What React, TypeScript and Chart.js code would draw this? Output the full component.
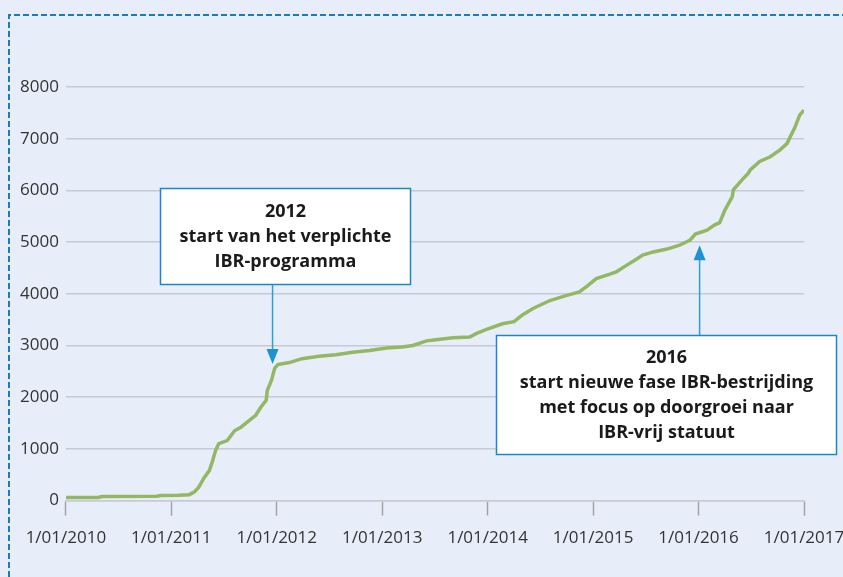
import React, { useEffect, useRef } from "react";
import { Chart, registerables } from "chart.js";

Chart.register(...registerables);

// Decimal year of each reading
const dates = [
  2010.0, 2010.31, 2010.34, 2010.86, 2010.9, 2011.07, 2011.17, 2011.22, 2011.26, 2011.31,
  2011.36, 2011.39, 2011.42, 2011.45, 2011.53, 2011.6, 2011.66, 2011.74, 2011.8, 2011.85,
  2011.9, 2011.91, 2011.95, 2011.98, 2012.01, 2012.12, 2012.24, 2012.4, 2012.56, 2012.72,
  2012.88, 2013.04, 2013.19, 2013.29, 2013.42, 2013.51, 2013.67, 2013.83, 2013.89, 2013.99,
  2014.14, 2014.25, 2014.33, 2014.43, 2014.59, 2014.75, 2014.87, 2014.94, 2015.03, 2015.16,
  2015.22, 2015.32, 2015.41, 2015.47, 2015.57, 2015.7, 2015.82, 2015.92, 2015.97, 2016.08,
  2016.15, 2016.2, 2016.25, 2016.32, 2016.33, 2016.41, 2016.47, 2016.49, 2016.58, 2016.68,
  2016.77, 2016.84, 2016.87, 2016.91, 2016.96, 2017.0,
];
// Cumulative number of herds
const counts = [
  60, 60, 80, 85, 100, 105, 115, 170, 260, 440,
  580, 760, 970, 1100, 1160, 1350, 1420, 1550, 1650, 1810,
  1940, 2130, 2330, 2560, 2630, 2670, 2745, 2790, 2820, 2870,
  2905, 2950, 2970, 3000, 3090, 3110, 3150, 3165, 3230, 3310,
  3420, 3460, 3590, 3715, 3870, 3970, 4035, 4145, 4295, 4380,
  4425, 4555, 4670, 4750, 4810, 4865, 4940, 5040, 5155, 5230,
  5330, 5375, 5620, 5880, 6010, 6200, 6330, 6395, 6560, 6650,
  6780, 6910, 7040, 7200, 7460, 7550,
];
const yearTicks = [2010, 2011, 2012, 2013, 2014, 2015, 2016, 2017];
const valueTicks = [0, 1000, 2000, 3000, 4000, 5000, 6000, 7000, 8000];

const note2012 = ["2012", "start van het verplichte", "IBR-programma"];
const note2016 = [
  "2016",
  "start nieuwe fase IBR-bestrijding",
  "met focus op doorgroei naar",
  "IBR-vrij statuut",
];

// annotation anchors in data coordinates
const annotations = [
  { lines: note2012, arrowX: 2011.96, tipY: 2640, box: { x0: 2010.893, x1: 2013.267, y0: 6047, y1: 4186 }, dir: "down" },
  { lines: note2016, arrowX: 2016.01, tipY: 4940, box: { x0: 2014.08, x1: 2017.3, y0: 3200, y1: 910 }, dir: "up" },
];

const FONT = "'Open Sans', 'DejaVu Sans', sans-serif";

const framePlugin = {
  id: "frame",
  beforeDraw(chart: any) {
    const { ctx, width, height } = chart;
    ctx.save();
    ctx.fillStyle = "#e7eefa";
    ctx.fillRect(0, 0, width, height);
    ctx.strokeStyle = "#1a7cb9";
    ctx.lineWidth = 2;
    ctx.setLineDash([6, 3]);
    ctx.beginPath();
    ctx.moveTo(9, height);
    ctx.lineTo(9, 15);
    ctx.lineTo(width, 15);
    ctx.stroke();
    ctx.restore();
  },
  afterDraw(chart: any) {
    const { ctx } = chart;
    const xs = chart.scales.x;
    const ys = chart.scales.y;
    ctx.save();
    annotations.forEach((a) => {
      const left = Math.round(xs.getPixelForValue(a.box.x0)) + 0.5;
      const right = Math.round(xs.getPixelForValue(a.box.x1)) + 0.5;
      const top = Math.round(ys.getPixelForValue(a.box.y0)) + 0.5;
      const bottom = Math.round(ys.getPixelForValue(a.box.y1)) + 0.5;
      const ax = xs.getPixelForValue(a.arrowX);
      const tip = ys.getPixelForValue(a.tipY);
      // arrow line
      ctx.strokeStyle = "#2ba0d8";
      ctx.lineWidth = 1.5;
      ctx.beginPath();
      if (a.dir === "down") {
        ctx.moveTo(ax, bottom);
        ctx.lineTo(ax, tip - 12);
      } else {
        ctx.moveTo(ax, top);
        ctx.lineTo(ax, tip + 12);
      }
      ctx.stroke();
      ctx.fillStyle = "#1b93d0";
      ctx.beginPath();
      if (a.dir === "down") {
        ctx.moveTo(ax - 6, tip - 15);
        ctx.lineTo(ax + 6, tip - 15);
        ctx.lineTo(ax, tip);
      } else {
        ctx.moveTo(ax - 6, tip + 15);
        ctx.lineTo(ax + 6, tip + 15);
        ctx.lineTo(ax, tip);
      }
      ctx.closePath();
      ctx.fill();
      // box
      ctx.fillStyle = "#ffffff";
      ctx.fillRect(left, top, right - left, bottom - top);
      ctx.strokeStyle = "#1e87c3";
      ctx.lineWidth = 1.5;
      ctx.strokeRect(left, top, right - left, bottom - top);
      // text
      ctx.fillStyle = "#1a1a1a";
      ctx.font = `bold 18px ${FONT}`;
      ctx.textAlign = "center";
      ctx.textBaseline = "middle";
      const cx = (left + right) / 2;
      const lh = 25;
      const total = lh * (a.lines.length - 1);
      const cy = (top + bottom) / 2;
      a.lines.forEach((t, i) => {
        ctx.fillText(t, cx, cy - total / 2 + i * lh);
      });
    });
    ctx.restore();
  },
};

export default function App() {
  const ref = useRef<HTMLCanvasElement>(null);
  useEffect(() => {
    document.body.style.margin = "0";
    const points = dates.map((d, i) => ({ x: d, y: counts[i] }));
    const chart = new Chart(ref.current!, {
      type: "line",
      data: {
        datasets: [
          {
            data: points,
            borderColor: "#94b763",
            borderWidth: 3.5,
            pointRadius: 0,
            tension: 0,
            fill: false,
          },
        ],
      },
      options: {
        animation: false,
        responsive: false,
        devicePixelRatio: 1,
        layout: { padding: { left: 13, top: 87, right: 39, bottom: 17 } },
        plugins: { legend: { display: false }, tooltip: { enabled: false } },
        scales: {
          x: {
            type: "linear",
            min: 2010,
            max: 2017,
            afterBuildTicks: (s: any) => {
              s.ticks = yearTicks.map((v) => ({ value: v }));
            },
            afterFit: (s: any) => {
              s.paddingLeft = 0;
              s.paddingRight = 0;
            },
            ticks: {
              callback: (v: any) => `1/01/${v}`,
              color: "#333333",
              font: { family: FONT, size: 17 },
              padding: 12,
              maxRotation: 0,
              autoSkip: false,
            },
            grid: {
              drawOnChartArea: false,
              drawTicks: true,
              tickLength: 15,
              tickColor: "#a3a3a3",
              tickWidth: 1.5,
            },
            border: { display: true, color: "#c6cad4", width: 1.5 },
          },
          y: {
            type: "linear",
            min: 0,
            max: 8000,
            afterBuildTicks: (s: any) => {
              s.ticks = valueTicks.map((v) => ({ value: v }));
            },
            ticks: {
              callback: (v: any) => String(v),
              color: "#333333",
              font: { family: FONT, size: 17 },
              padding: 7,
            },
            grid: { color: "#c6cad4", lineWidth: 1.5, drawTicks: false },
            border: { display: false },
          },
        },
      },
      plugins: [framePlugin],
    });
    return () => chart.destroy();
  }, []);
  return <canvas ref={ref} width={843} height={577} style={{ display: "block" }} />;
}
